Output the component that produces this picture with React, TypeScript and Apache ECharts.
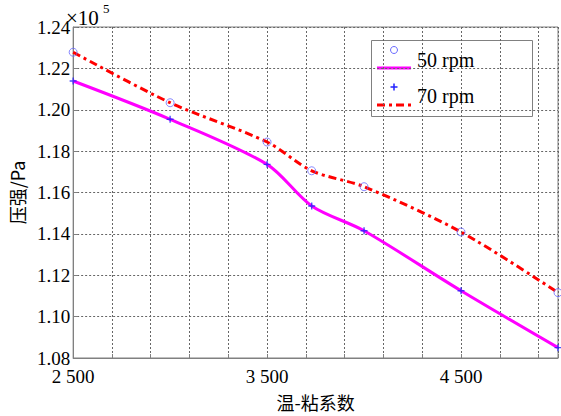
import React, { useEffect, useRef } from 'react';
import * as echarts from 'echarts';

const xValues = [2500, 3000, 3500, 3730, 4000, 4500, 5000];
const rpm50 = [1.2139, 1.1954, 1.1736, 1.1535, 1.1415, 1.1125, 1.085];
const rpm70 = [1.2278, 1.2034, 1.1844, 1.1705, 1.1628, 1.1409, 1.1116];
const xTickValues = [2500, 3500, 4500];
const xTickLabels = ['2 500', '3 500', '4 500'];
const xMin = 2500;
const xMax = 5000;
const yMin = 1.08;
const yMax = 1.24;

const SERIF = 'Liberation Serif';
const CJK = 'Noto Sans CJK SC';
const PLUS = 'path://M4,0H6V4H10V6H6V10H4V6H0V4H4Z';

export default function App() {
  const ref = useRef<HTMLDivElement>(null);
  useEffect(() => {
    if (!ref.current) return;
    const chart = echarts.init(ref.current, undefined, { renderer: 'svg' });
    const toPts = (ys: number[]) => xValues.map((x, i) => [x - xMin, ys[i]]);
    const titleText = (text: string, left: number, top: number, size: number) => ({
      text, left, top, padding: 0, z: 20,
      textStyle: { fontSize: size, fontWeight: 'normal', color: '#000', fontFamily: SERIF },
    });
    const option: any = {
      animation: false,
      backgroundColor: '#ffffff',
      title: [
        titleText('×10', 66, 7, 21),
        titleText('5', 103, 2, 13),
        titleText('50 rpm', 417, 50, 20),
        titleText('70 rpm', 417, 86, 20),
      ],
      grid: {
        left: 64, right: 2, top: 27, bottom: 58,
        show: true, borderColor: '#808080', borderWidth: 1,
      },
      xAxis: {
        type: 'value',
        min: 0, max: xMax - xMin, interval: 200,
        name: '温-粘系数',
        nameLocation: 'middle', nameGap: 35,
        nameTextStyle: { fontSize: 18, color: '#000', fontFamily: CJK },
        axisLine: { show: true, lineStyle: { color: '#808080' } },
        axisTick: { show: true, inside: true, length: 4, lineStyle: { color: '#808080' } },
        axisLabel: {
          margin: 9, fontSize: 19, color: '#000', fontFamily: SERIF,
          formatter: (v: number) => {
            const idx = xTickValues.indexOf(Math.round(v + xMin));
            return idx >= 0 ? xTickLabels[idx] : '';
          },
        },
        splitLine: { show: true, lineStyle: { color: '#666666', type: [2, 2], width: 1 } },
      },
      yAxis: {
        type: 'value',
        min: yMin, max: yMax, interval: 0.02,
        name: '压强/Pa',
        nameLocation: 'middle', nameGap: 40,
        nameTextStyle: { fontSize: 18, color: '#000', fontFamily: CJK },
        axisLine: { show: true, lineStyle: { color: '#808080' } },
        axisTick: { show: true, inside: true, length: 4, lineStyle: { color: '#808080' } },
        axisLabel: {
          margin: 3, fontSize: 19, color: '#000', fontFamily: SERIF,
          formatter: (v: number) => v.toFixed(2),
        },
        splitLine: { show: true, lineStyle: { color: '#666666', type: [2, 2], width: 1 } },
      },
      series: [
        {
          name: '50 rpm', type: 'line', data: toPts(rpm50), smooth: 0.3,
          showSymbol: false, symbol: 'none',
          lineStyle: { color: '#ff00ff', width: 3 },
          z: 2,
        },
        {
          name: '70 rpm', type: 'line', data: toPts(rpm70), smooth: 0.3,
          showSymbol: false, symbol: 'none',
          lineStyle: { color: '#ff0000', width: 3, type: [8, 4, 3, 4] },
          z: 2,
        },
        {
          name: '70 rpm 测点', type: 'scatter', data: toPts(rpm70),
          symbol: 'circle', symbolSize: 8,
          itemStyle: { color: 'rgba(0,0,0,0)', borderColor: '#6a6aff', borderWidth: 1 },
          z: 3,
        },
        {
          name: '50 rpm 测点', type: 'scatter', data: toPts(rpm50),
          symbol: PLUS, symbolSize: 7,
          itemStyle: { color: '#2020ff' },
          z: 3,
        },
      ],
      graphic: [
        {
          type: 'group', z: 5,
          children: [
            { type: 'rect', shape: { x: 371.5, y: 40.5, width: 161, height: 76 },
              style: { fill: '#fff', stroke: '#808080', lineWidth: 1 } },
            { type: 'circle', shape: { cx: 394, cy: 50, r: 3.5 },
              style: { fill: 'none', stroke: '#6a6aff', lineWidth: 1 } },
            { type: 'line', shape: { x1: 377, y1: 68, x2: 411, y2: 68 },
              style: { stroke: '#ff00ff', lineWidth: 3 } },
            { type: 'line', shape: { x1: 390.5, y1: 87, x2: 397.5, y2: 87 },
              style: { stroke: '#2020ff', lineWidth: 1.5 } },
            { type: 'line', shape: { x1: 394, y1: 83.5, x2: 394, y2: 90.5 },
              style: { stroke: '#2020ff', lineWidth: 1.5 } },
            { type: 'line', shape: { x1: 377, y1: 105, x2: 411, y2: 105 },
              style: { stroke: '#ff0000', lineWidth: 3, lineDash: [8, 4, 3, 4] } },
          ],
        },
      ],
    };
    chart.setOption(option);
    return () => chart.dispose();
  }, []);
  return <div ref={ref} style={{ position: 'fixed', left: 0, top: 0, width: 561, height: 416 }} />;
}
